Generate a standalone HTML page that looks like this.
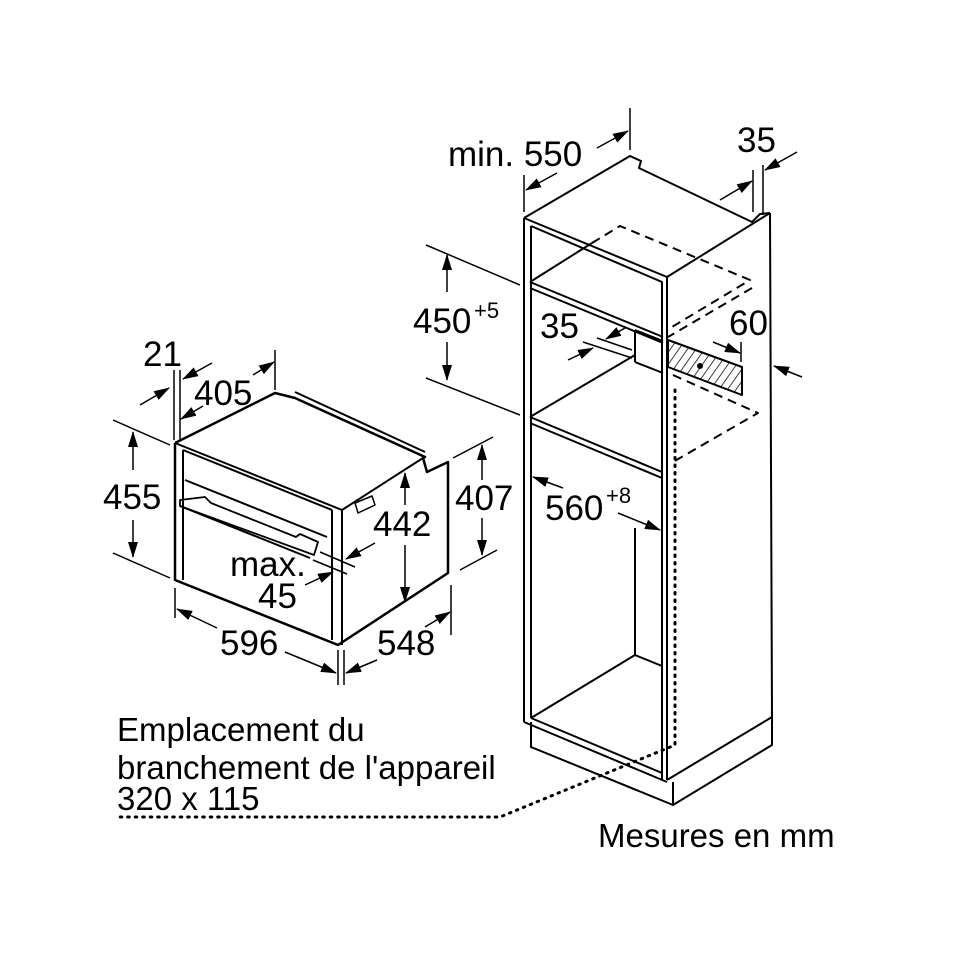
<!DOCTYPE html>
<html><head><meta charset="utf-8"><style>
html,body{margin:0;padding:0;background:#fff;}
svg{display:block;}
text{font-family:"Liberation Sans",Arial,sans-serif;fill:#000;}
</style></head><body>
<svg width="970" height="971" viewBox="0 0 970 971" xmlns="http://www.w3.org/2000/svg">
<defs>
<marker id="a" markerWidth="16" markerHeight="10" refX="15" refY="5" orient="auto" markerUnits="userSpaceOnUse">
<path d="M0,0 L16,5 L0,10 Z" fill="#000"/></marker>
<pattern id="h" width="7" height="7" patternUnits="userSpaceOnUse" patternTransform="rotate(35)">
<line x1="0" y1="0" x2="0" y2="7" stroke="#000" stroke-width="1.5"/></pattern>
</defs>
<g fill="none" stroke="#000" stroke-width="2" stroke-linejoin="round">
<!-- ===== Cabinet ===== -->
<polyline points="524,218 630,156 641,161 639,168 752,222 760,214 770,213"/>
<polyline points="524,218 667,277 770,213"/>
<!-- front -->
<line x1="524" y1="218" x2="524" y2="722"/>
<line x1="531" y1="226" x2="531" y2="718"/>
<polyline points="531,226 662,282 662,780"/>
<line x1="667" y1="277" x2="667" y2="780"/>
<line x1="524" y1="722" x2="667" y2="782"/>
<line x1="531" y1="718" x2="662" y2="773"/>
<!-- right side -->
<line x1="770" y1="213" x2="772" y2="717"/>
<line x1="667" y1="780" x2="772" y2="717"/>
<!-- plinth -->
<polyline points="531,722 531,747 673,805 772,745 772,717"/>
<line x1="673" y1="782" x2="673" y2="805"/>
<!-- upper niche -->
<line x1="530" y1="282" x2="663" y2="337"/>
<line x1="530" y1="288" x2="663" y2="343"/>
<polyline points="530,282 592,243"/>
<polyline points="635,330 635,362"/>
<line x1="635" y1="330" x2="663" y2="341"/>
<line x1="635" y1="355" x2="530" y2="417"/>
<line x1="635" y1="362" x2="663" y2="373"/>
<!-- lower shelf -->
<line x1="530" y1="417" x2="662" y2="472"/>
<line x1="530" y1="423" x2="662" y2="478"/>
<!-- lower niche back -->
<line x1="635" y1="528" x2="635" y2="655"/>
<line x1="531" y1="718" x2="635" y2="655"/>
<line x1="635" y1="655" x2="662" y2="666"/>
<!-- hatched -->
<polygon points="668,340 742,367 742,395 668,367" fill="url(#h)"/>
<circle cx="700" cy="366" r="2" fill="#000"/>
<!-- dashed -->
<g stroke-dasharray="9,6">
<polyline points="592,243 620,226 750,280 667,330"/>
<line x1="752" y1="288" x2="668" y2="337"/>
<polyline points="673,375 758,413 673,462"/>
</g>
<!-- dotted -->
<polyline points="675,390 675,745 500,817 120,817" stroke-dasharray="1.5,6" stroke-linecap="round" stroke-width="3"/>

<!-- cabinet dimensions -->
<line x1="524" y1="175" x2="524" y2="212" stroke-width="1.5"/>
<line x1="630" y1="108" x2="630" y2="150" stroke-width="1.5"/>
<line x1="597" y1="148" x2="628" y2="131" stroke-width="1.5" marker-end="url(#a)"/>
<line x1="557" y1="173" x2="526" y2="190" stroke-width="1.5" marker-end="url(#a)"/>
<line x1="753" y1="170" x2="753" y2="212" stroke-width="1.5"/>
<line x1="763" y1="165" x2="763" y2="215" stroke-width="1.5"/>
<line x1="720" y1="200" x2="752" y2="181" stroke-width="1.5" marker-end="url(#a)"/>
<line x1="797" y1="152" x2="765" y2="170" stroke-width="1.5" marker-end="url(#a)"/>
<line x1="426" y1="245" x2="520" y2="285" stroke-width="1.5"/>
<line x1="426" y1="378" x2="520" y2="415" stroke-width="1.5"/>
<line x1="447" y1="292" x2="447" y2="255" stroke-width="1.5" marker-end="url(#a)"/>
<line x1="447" y1="342" x2="447" y2="380" stroke-width="1.5" marker-end="url(#a)"/>
<line x1="597" y1="338" x2="632" y2="350" stroke-width="1.5"/>
<line x1="583" y1="342" x2="632" y2="358" stroke-width="1.5"/>
<line x1="625" y1="328" x2="606" y2="339" stroke-width="1.5" marker-end="url(#a)"/>
<line x1="568" y1="360" x2="593" y2="348" stroke-width="1.5" marker-end="url(#a)"/>
<line x1="741" y1="342" x2="741" y2="362" stroke-width="1.5"/>
<line x1="713" y1="342" x2="740" y2="353" stroke-width="1.5" marker-end="url(#a)"/>
<line x1="802" y1="377" x2="774" y2="366" stroke-width="1.5" marker-end="url(#a)"/>
<line x1="563" y1="488" x2="533" y2="477" stroke-width="1.5" marker-end="url(#a)"/>
<line x1="618" y1="513" x2="660" y2="530" stroke-width="1.5" marker-end="url(#a)"/>

<!-- ===== Oven ===== -->
<polyline points="175,443 275,393 295,398 425,457 423,458 427,472 448,462 448,573 338,645 175,580 175,443" stroke-width="2.5"/>
<line x1="295" y1="392" x2="425" y2="452"/>
<line x1="175" y1="443" x2="342" y2="510"/>
<line x1="183" y1="450" x2="332" y2="510"/>
<line x1="342" y1="510" x2="423" y2="458"/>
<line x1="183" y1="450" x2="183" y2="580"/>
<line x1="332" y1="510" x2="332" y2="640"/>
<line x1="342" y1="510" x2="342" y2="645"/>
<line x1="185" y1="480" x2="327" y2="537"/>
<polygon points="180,500 205,497 211,503 296,537 300,534 318,542 314,555 180,506" stroke-width="1.8"/>
<line x1="180" y1="506" x2="310" y2="558"/>
<path d="M355,503 L372,496 L375,505 L358,513 Z" stroke-width="1.5"/>

<!-- oven dims -->
<line x1="174" y1="370" x2="174" y2="440" stroke-width="1.5"/>
<line x1="180" y1="370" x2="180" y2="440" stroke-width="1.5"/>
<line x1="140" y1="405" x2="169" y2="388" stroke-width="1.5" marker-end="url(#a)"/>
<line x1="212" y1="363" x2="183" y2="379" stroke-width="1.5" marker-end="url(#a)"/>
<line x1="203" y1="406" x2="181" y2="419" stroke-width="1.5" marker-end="url(#a)"/>
<line x1="253" y1="375" x2="274" y2="362" stroke-width="1.5" marker-end="url(#a)"/>
<line x1="275" y1="350" x2="275" y2="390" stroke-width="1.5"/>
<line x1="113" y1="420" x2="170" y2="445" stroke-width="1.5"/>
<line x1="113" y1="553" x2="170" y2="578" stroke-width="1.5"/>
<line x1="133" y1="470" x2="133" y2="432" stroke-width="1.5" marker-end="url(#a)"/>
<line x1="133" y1="520" x2="133" y2="557" stroke-width="1.5" marker-end="url(#a)"/>
<line x1="453" y1="458" x2="493" y2="437" stroke-width="1.5"/>
<line x1="460" y1="570" x2="497" y2="550" stroke-width="1.5"/>
<line x1="482" y1="480" x2="482" y2="445" stroke-width="1.5" marker-end="url(#a)"/>
<line x1="482" y1="518" x2="482" y2="555" stroke-width="1.5" marker-end="url(#a)"/>
<line x1="405" y1="505" x2="405" y2="473" stroke-width="1.5" marker-end="url(#a)"/>
<line x1="405" y1="545" x2="405" y2="602" stroke-width="1.5" marker-end="url(#a)"/>
<line x1="320" y1="552" x2="355" y2="567" stroke-width="1.5"/>
<line x1="313" y1="560" x2="347" y2="574" stroke-width="1.5"/>
<line x1="375" y1="543" x2="346" y2="559" stroke-width="1.5" marker-end="url(#a)"/>
<line x1="305" y1="585" x2="333" y2="572" stroke-width="1.5" marker-end="url(#a)"/>
<line x1="175" y1="588" x2="175" y2="618" stroke-width="1.5"/>
<line x1="338" y1="650" x2="338" y2="685" stroke-width="1.5"/>
<line x1="344" y1="650" x2="344" y2="685" stroke-width="1.5"/>
<line x1="451" y1="585" x2="451" y2="635" stroke-width="1.5"/>
<line x1="217" y1="628" x2="177" y2="609" stroke-width="1.5" marker-end="url(#a)"/>
<line x1="285" y1="652" x2="336" y2="673" stroke-width="1.5" marker-end="url(#a)"/>
<line x1="377" y1="660" x2="346" y2="673" stroke-width="1.5" marker-end="url(#a)"/>
<line x1="425" y1="627" x2="450" y2="612" stroke-width="1.5" marker-end="url(#a)"/>
</g>

<g font-size="35">
<text x="448" y="166">min. 550</text>
<text x="737" y="152">35</text>
<text x="413" y="333">450</text><text x="474" y="318" font-size="22">+5</text>
<text x="540" y="338">35</text>
<text x="729" y="335">60</text>
<text x="545" y="520">560</text><text x="606" y="503" font-size="22">+8</text>
<text x="143" y="366">21</text>
<text x="194" y="405">405</text>
<text x="103" y="509">455</text>
<text x="455" y="510">407</text>
<text x="373" y="536">442</text>
<text x="230" y="576">max.</text>
<text x="258" y="608">45</text>
<text x="220" y="655">596</text>
<text x="377" y="655">548</text>
</g>
<g font-size="33">
<text x="117" y="741">Emplacement du</text>
<text x="117" y="779">branchement de l'appareil</text>
<text x="117" y="810">320 x 115</text>
<text x="598" y="847">Mesures en mm</text>
</g>
</svg>
</body></html>
